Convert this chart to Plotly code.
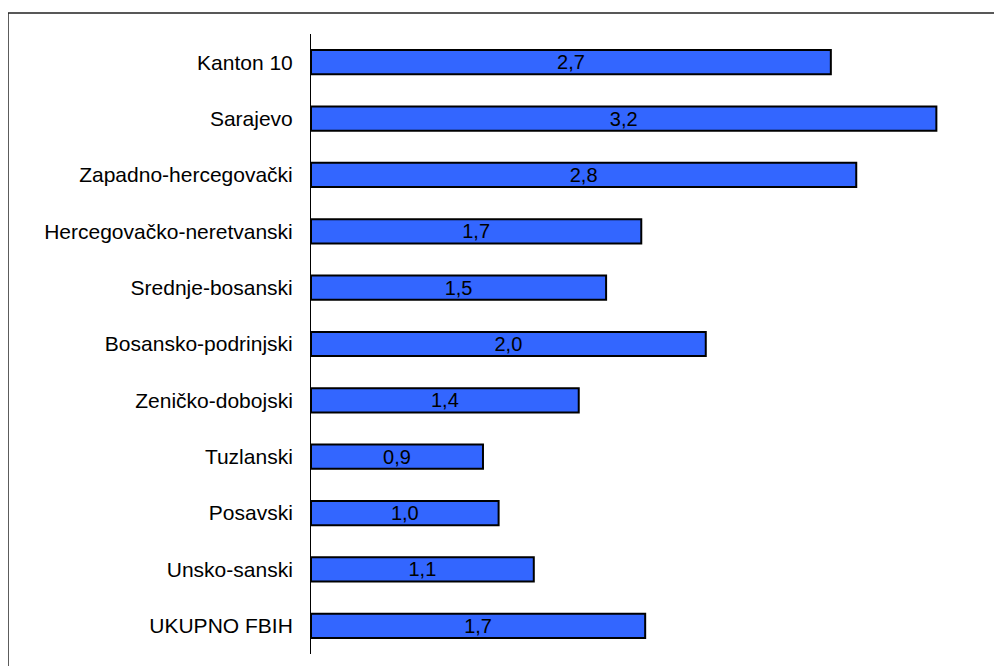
import plotly.graph_objects as go

cantons = [
    "Kanton 10",
    "Sarajevo",
    "Zapadno-hercegovački",
    "Hercegovačko-neretvanski",
    "Srednje-bosanski",
    "Bosansko-podrinjski",
    "Zeničko-dobojski",
    "Tuzlanski",
    "Posavski",
    "Unsko-sanski",
    "UKUPNO FBIH",
]
values = [2.66, 3.2, 2.79, 1.69, 1.51, 2.02, 1.37, 0.88, 0.96, 1.14, 1.71]

labels = [f"{v:.1f}".replace(".", ",") for v in values]

fig = go.Figure()
fig.add_trace(go.Bar(
    x=values,
    y=cantons,
    orientation="h",
    text=labels,
    textposition="inside",
    insidetextanchor="middle",
    textangle=0,
    textfont=dict(color="black", size=20, family="Liberation Sans, Arial"),
    marker=dict(color="#3366FF", line=dict(color="black", width=2)),
    width=0.43,
    hoverinfo="skip",
))

# outer frame around the chart area
fig.add_shape(
    type="rect", xref="paper", yref="paper",
    x0=-0.443, x1=1.2, y0=-0.2, y1=1.0339,
    line=dict(color="#222222", width=1.5),
    fillcolor="rgba(0,0,0,0)",
)

fig.update_xaxes(
    range=[0, 3.5],
    visible=False,
    showgrid=False,
    zeroline=False,
)
fig.update_yaxes(
    range=[10.5, -0.5],
    showline=True,
    linecolor="black",
    linewidth=1,
    showgrid=False,
    ticks="",
    ticklabelstandoff=13,
    tickfont=dict(size=21, color="black", family="Liberation Sans, Arial"),
)

fig.update_layout(
    width=1002,
    height=666,
    margin=dict(l=303, r=15, t=26, b=20),
    plot_bgcolor="white",
    paper_bgcolor="white",
    showlegend=False,
    uniformtext=dict(mode="show", minsize=20),
    font=dict(family="Liberation Sans, Arial", color="black"),
)

fig.write_html("out.html")
